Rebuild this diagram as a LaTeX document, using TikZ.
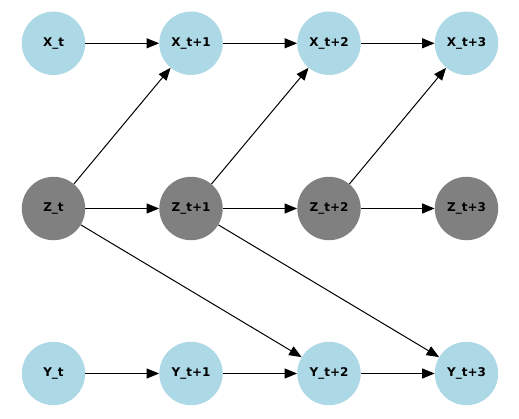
\documentclass[tikz,border=0pt]{standalone}
\usepackage{fontspec}
\setmainfont{DejaVu Sans}
\usetikzlibrary{arrows.meta}
\definecolor{dbnBlue}{HTML}{ADD8E6}
\definecolor{dbnGray}{HTML}{808080}
\tikzset{
  % Observed variables.
  dbn/obs/.style={
    circle, draw=none, fill=dbnBlue, minimum size=63.4pt, inner sep=0pt,
    font=\fontsize{12}{14}\selectfont\bfseries, text=black
  },
  % Hidden state.
  dbn/hid/.style={
    dbn/obs, fill=dbnGray
  },
  % Arrows between time slices.
  dbn/arrow/.style={
    -{Triangle[length=12.5pt,width=10pt]}, line width=1pt, draw=black
  },
}
\begin{document}
\begin{tikzpicture}[x=1pt,y=-1pt, a/.style={dbn/arrow}]
  \useasboundingbox (0,0) rectangle (519,419);
  \node[dbn/obs] (x0) at (53.5,43.3)  {X\_t};
  \node[dbn/obs] (x1) at (191,43.3)   {X\_t+1};
  \node[dbn/obs] (x2) at (329,43.3)   {X\_t+2};
  \node[dbn/obs] (x3) at (466.5,43.3) {X\_t+3};
  \node[dbn/hid] (z0) at (53.5,208.5)  {Z\_t};
  \node[dbn/hid] (z1) at (191,208.5)   {Z\_t+1};
  \node[dbn/hid] (z2) at (329,208.5)   {Z\_t+2};
  \node[dbn/hid] (z3) at (466.5,208.5) {Z\_t+3};
  \node[dbn/obs] (y0) at (53.5,373.5)  {Y\_t};
  \node[dbn/obs] (y1) at (191,373.5)   {Y\_t+1};
  \node[dbn/obs] (y2) at (329,373.5)   {Y\_t+2};
  \node[dbn/obs] (y3) at (466.5,373.5) {Y\_t+3};
  \draw[a] (x0) -- (x1); \draw[a] (x1) -- (x2); \draw[a] (x2) -- (x3);
  \draw[a] (z0) -- (z1); \draw[a] (z1) -- (z2); \draw[a] (z2) -- (z3);
  \draw[a] (y0) -- (y1); \draw[a] (y1) -- (y2); \draw[a] (y2) -- (y3);
  \draw[a] (z0) -- (x1); \draw[a] (z1) -- (x2); \draw[a] (z2) -- (x3);
  \draw[a] (z0) -- (y2); \draw[a] (z1) -- (y3);
\end{tikzpicture}
\end{document}
